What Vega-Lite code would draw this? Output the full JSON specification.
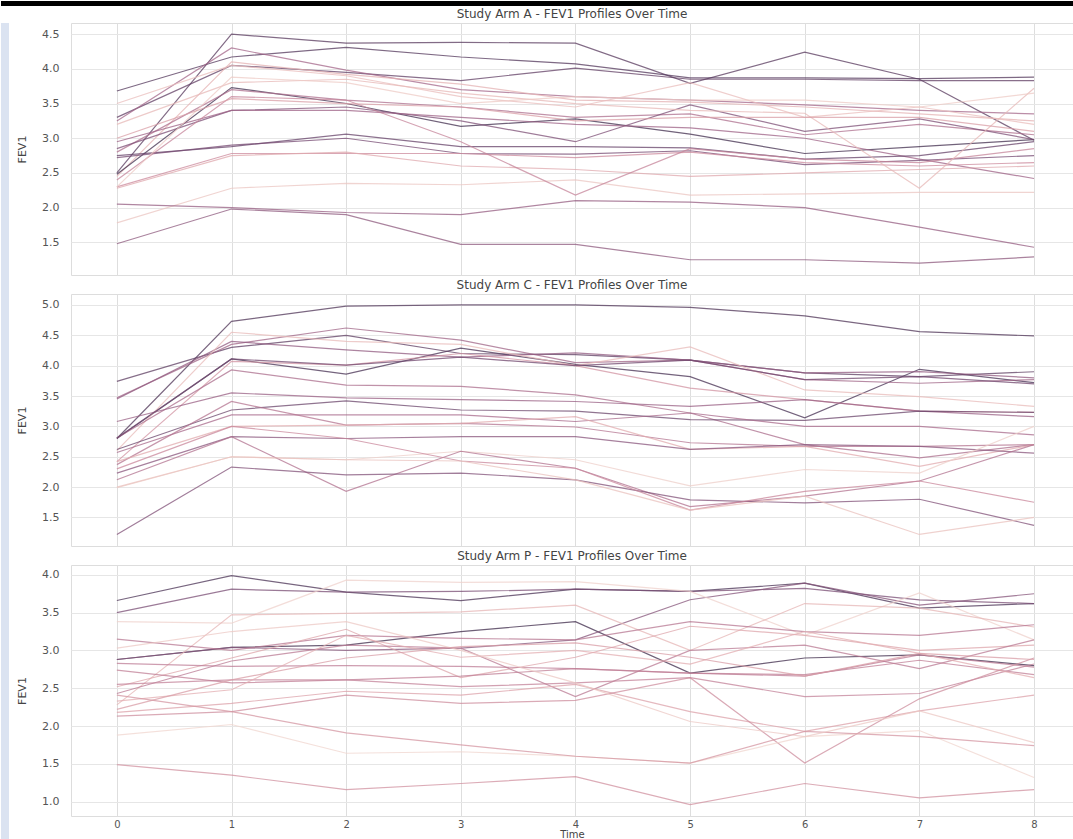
{
"$schema": "https://vega.github.io/schema/vega-lite/v6.json",
"padding": 0,
"background": "white",
"config": {"font": "DejaVu Sans", "view": {"stroke": "#dddddd"}, "concat": {"spacing": 0}},
"datasets": {"fev": [
{"arm":"A","id":56,"t":0,"v":2.50},{"arm":"A","id":56,"t":1,"v":4.50},{"arm":"A","id":56,"t":2,"v":4.37},{"arm":"A","id":56,"t":3,"v":4.38},{"arm":"A","id":56,"t":4,"v":4.37},{"arm":"A","id":56,"t":5,"v":3.79},{"arm":"A","id":56,"t":6,"v":4.24},{"arm":"A","id":56,"t":7,"v":3.85},{"arm":"A","id":56,"t":8,"v":2.97},
{"arm":"A","id":57,"t":0,"v":3.68},{"arm":"A","id":57,"t":1,"v":4.17},{"arm":"A","id":57,"t":2,"v":4.31},{"arm":"A","id":57,"t":3,"v":4.17},{"arm":"A","id":57,"t":4,"v":4.07},{"arm":"A","id":57,"t":5,"v":3.87},{"arm":"A","id":57,"t":6,"v":3.87},{"arm":"A","id":57,"t":7,"v":3.86},{"arm":"A","id":57,"t":8,"v":3.88},
{"arm":"A","id":54,"t":0,"v":3.30},{"arm":"A","id":54,"t":1,"v":4.05},{"arm":"A","id":54,"t":2,"v":3.95},{"arm":"A","id":54,"t":3,"v":3.83},{"arm":"A","id":54,"t":4,"v":4.01},{"arm":"A","id":54,"t":5,"v":3.85},{"arm":"A","id":54,"t":6,"v":3.85},{"arm":"A","id":54,"t":7,"v":3.83},{"arm":"A","id":54,"t":8,"v":3.83},
{"arm":"A","id":38,"t":0,"v":3.25},{"arm":"A","id":38,"t":1,"v":4.30},{"arm":"A","id":38,"t":2,"v":3.98},{"arm":"A","id":38,"t":3,"v":3.70},{"arm":"A","id":38,"t":4,"v":3.60},{"arm":"A","id":38,"t":5,"v":3.55},{"arm":"A","id":38,"t":6,"v":3.48},{"arm":"A","id":38,"t":7,"v":3.40},{"arm":"A","id":38,"t":8,"v":3.35},
{"arm":"A","id":12,"t":0,"v":2.45},{"arm":"A","id":12,"t":1,"v":4.10},{"arm":"A","id":12,"t":2,"v":3.92},{"arm":"A","id":12,"t":3,"v":3.78},{"arm":"A","id":12,"t":4,"v":3.55},{"arm":"A","id":12,"t":5,"v":3.52},{"arm":"A","id":12,"t":6,"v":3.45},{"arm":"A","id":12,"t":7,"v":3.35},{"arm":"A","id":12,"t":8,"v":3.25},
{"arm":"A","id":8,"t":0,"v":3.50},{"arm":"A","id":8,"t":1,"v":4.05},{"arm":"A","id":8,"t":2,"v":3.90},{"arm":"A","id":8,"t":3,"v":3.60},{"arm":"A","id":8,"t":4,"v":3.45},{"arm":"A","id":8,"t":5,"v":3.80},{"arm":"A","id":8,"t":6,"v":3.30},{"arm":"A","id":8,"t":7,"v":3.45},{"arm":"A","id":8,"t":8,"v":3.20},
{"arm":"A","id":61,"t":0,"v":2.48},{"arm":"A","id":61,"t":1,"v":3.73},{"arm":"A","id":61,"t":2,"v":3.50},{"arm":"A","id":61,"t":3,"v":3.17},{"arm":"A","id":61,"t":4,"v":3.28},{"arm":"A","id":61,"t":5,"v":3.06},{"arm":"A","id":61,"t":6,"v":2.78},{"arm":"A","id":61,"t":7,"v":2.88},{"arm":"A","id":61,"t":8,"v":2.98},
{"arm":"A","id":35,"t":0,"v":2.80},{"arm":"A","id":35,"t":1,"v":3.70},{"arm":"A","id":35,"t":2,"v":3.55},{"arm":"A","id":35,"t":3,"v":3.45},{"arm":"A","id":35,"t":4,"v":3.30},{"arm":"A","id":35,"t":5,"v":3.35},{"arm":"A","id":35,"t":6,"v":3.05},{"arm":"A","id":35,"t":7,"v":3.20},{"arm":"A","id":35,"t":8,"v":3.05},
{"arm":"A","id":48,"t":0,"v":2.85},{"arm":"A","id":48,"t":1,"v":3.40},{"arm":"A","id":48,"t":2,"v":3.45},{"arm":"A","id":48,"t":3,"v":3.25},{"arm":"A","id":48,"t":4,"v":2.95},{"arm":"A","id":48,"t":5,"v":3.48},{"arm":"A","id":48,"t":6,"v":3.10},{"arm":"A","id":48,"t":7,"v":3.28},{"arm":"A","id":48,"t":8,"v":2.98},
{"arm":"A","id":40,"t":0,"v":2.95},{"arm":"A","id":40,"t":1,"v":3.40},{"arm":"A","id":40,"t":2,"v":3.40},{"arm":"A","id":40,"t":3,"v":3.30},{"arm":"A","id":40,"t":4,"v":3.20},{"arm":"A","id":40,"t":5,"v":3.15},{"arm":"A","id":40,"t":6,"v":3.00},{"arm":"A","id":40,"t":7,"v":2.70},{"arm":"A","id":40,"t":8,"v":2.42},
{"arm":"A","id":53,"t":0,"v":2.75},{"arm":"A","id":53,"t":1,"v":2.88},{"arm":"A","id":53,"t":2,"v":3.06},{"arm":"A","id":53,"t":3,"v":2.88},{"arm":"A","id":53,"t":4,"v":2.88},{"arm":"A","id":53,"t":5,"v":2.86},{"arm":"A","id":53,"t":6,"v":2.70},{"arm":"A","id":53,"t":7,"v":2.75},{"arm":"A","id":53,"t":8,"v":2.95},
{"arm":"A","id":50,"t":0,"v":2.72},{"arm":"A","id":50,"t":1,"v":2.90},{"arm":"A","id":50,"t":2,"v":3.00},{"arm":"A","id":50,"t":3,"v":2.78},{"arm":"A","id":50,"t":4,"v":2.77},{"arm":"A","id":50,"t":5,"v":2.82},{"arm":"A","id":50,"t":6,"v":2.62},{"arm":"A","id":50,"t":7,"v":2.68},{"arm":"A","id":50,"t":8,"v":2.75},
{"arm":"A","id":25,"t":0,"v":2.30},{"arm":"A","id":25,"t":1,"v":2.78},{"arm":"A","id":25,"t":2,"v":2.78},{"arm":"A","id":25,"t":3,"v":2.78},{"arm":"A","id":25,"t":4,"v":2.72},{"arm":"A","id":25,"t":5,"v":2.80},{"arm":"A","id":25,"t":6,"v":2.65},{"arm":"A","id":25,"t":7,"v":2.60},{"arm":"A","id":25,"t":8,"v":2.65},
{"arm":"A","id":15,"t":0,"v":2.28},{"arm":"A","id":15,"t":1,"v":2.75},{"arm":"A","id":15,"t":2,"v":2.80},{"arm":"A","id":15,"t":3,"v":2.60},{"arm":"A","id":15,"t":4,"v":2.55},{"arm":"A","id":15,"t":5,"v":2.45},{"arm":"A","id":15,"t":6,"v":2.50},{"arm":"A","id":15,"t":7,"v":2.55},{"arm":"A","id":15,"t":8,"v":2.60},
{"arm":"A","id":6,"t":0,"v":1.78},{"arm":"A","id":6,"t":1,"v":2.28},{"arm":"A","id":6,"t":2,"v":2.35},{"arm":"A","id":6,"t":3,"v":2.33},{"arm":"A","id":6,"t":4,"v":2.40},{"arm":"A","id":6,"t":5,"v":2.18},{"arm":"A","id":6,"t":6,"v":2.20},{"arm":"A","id":6,"t":7,"v":2.22},{"arm":"A","id":6,"t":8,"v":2.22},
{"arm":"A","id":42,"t":0,"v":2.05},{"arm":"A","id":42,"t":1,"v":2.00},{"arm":"A","id":42,"t":2,"v":1.93},{"arm":"A","id":42,"t":3,"v":1.90},{"arm":"A","id":42,"t":4,"v":2.10},{"arm":"A","id":42,"t":5,"v":2.08},{"arm":"A","id":42,"t":6,"v":2.00},{"arm":"A","id":42,"t":7,"v":1.72},{"arm":"A","id":42,"t":8,"v":1.43},
{"arm":"A","id":44,"t":0,"v":1.48},{"arm":"A","id":44,"t":1,"v":1.98},{"arm":"A","id":44,"t":2,"v":1.90},{"arm":"A","id":44,"t":3,"v":1.47},{"arm":"A","id":44,"t":4,"v":1.47},{"arm":"A","id":44,"t":5,"v":1.25},{"arm":"A","id":44,"t":6,"v":1.25},{"arm":"A","id":44,"t":7,"v":1.20},{"arm":"A","id":44,"t":8,"v":1.29},
{"arm":"A","id":27,"t":0,"v":2.40},{"arm":"A","id":27,"t":1,"v":3.60},{"arm":"A","id":27,"t":2,"v":3.55},{"arm":"A","id":27,"t":3,"v":2.95},{"arm":"A","id":27,"t":4,"v":2.18},{"arm":"A","id":27,"t":5,"v":2.85},{"arm":"A","id":27,"t":6,"v":2.70},{"arm":"A","id":27,"t":7,"v":2.65},{"arm":"A","id":27,"t":8,"v":2.85},
{"arm":"A","id":10,"t":0,"v":3.20},{"arm":"A","id":10,"t":1,"v":3.80},{"arm":"A","id":10,"t":2,"v":3.85},{"arm":"A","id":10,"t":3,"v":3.65},{"arm":"A","id":10,"t":4,"v":3.50},{"arm":"A","id":10,"t":5,"v":3.40},{"arm":"A","id":10,"t":6,"v":3.36},{"arm":"A","id":10,"t":7,"v":2.28},{"arm":"A","id":10,"t":8,"v":3.72},
{"arm":"A","id":4,"t":0,"v":2.30},{"arm":"A","id":4,"t":1,"v":3.88},{"arm":"A","id":4,"t":2,"v":3.80},{"arm":"A","id":4,"t":3,"v":3.50},{"arm":"A","id":4,"t":4,"v":3.60},{"arm":"A","id":4,"t":5,"v":3.55},{"arm":"A","id":4,"t":6,"v":3.55},{"arm":"A","id":4,"t":7,"v":3.45},{"arm":"A","id":4,"t":8,"v":3.65},
{"arm":"A","id":18,"t":0,"v":3.00},{"arm":"A","id":18,"t":1,"v":3.57},{"arm":"A","id":18,"t":2,"v":3.50},{"arm":"A","id":18,"t":3,"v":3.45},{"arm":"A","id":18,"t":4,"v":3.25},{"arm":"A","id":18,"t":5,"v":3.30},{"arm":"A","id":18,"t":6,"v":3.30},{"arm":"A","id":18,"t":7,"v":3.30},{"arm":"A","id":18,"t":8,"v":3.10},
{"arm":"C","id":58,"t":0,"v":2.80},{"arm":"C","id":58,"t":1,"v":4.73},{"arm":"C","id":58,"t":2,"v":4.98},{"arm":"C","id":58,"t":3,"v":5.00},{"arm":"C","id":58,"t":4,"v":5.00},{"arm":"C","id":58,"t":5,"v":4.96},{"arm":"C","id":58,"t":6,"v":4.82},{"arm":"C","id":58,"t":7,"v":4.56},{"arm":"C","id":58,"t":8,"v":4.49},
{"arm":"C","id":60,"t":0,"v":2.80},{"arm":"C","id":60,"t":1,"v":4.11},{"arm":"C","id":60,"t":2,"v":3.86},{"arm":"C","id":60,"t":3,"v":4.29},{"arm":"C","id":60,"t":4,"v":4.02},{"arm":"C","id":60,"t":5,"v":3.82},{"arm":"C","id":60,"t":6,"v":3.14},{"arm":"C","id":60,"t":7,"v":3.94},{"arm":"C","id":60,"t":8,"v":3.72},
{"arm":"C","id":55,"t":0,"v":3.74},{"arm":"C","id":55,"t":1,"v":4.30},{"arm":"C","id":55,"t":2,"v":4.50},{"arm":"C","id":55,"t":3,"v":4.20},{"arm":"C","id":55,"t":4,"v":4.18},{"arm":"C","id":55,"t":5,"v":4.09},{"arm":"C","id":55,"t":6,"v":3.88},{"arm":"C","id":55,"t":7,"v":3.82},{"arm":"C","id":55,"t":8,"v":3.90},
{"arm":"C","id":39,"t":0,"v":3.47},{"arm":"C","id":39,"t":1,"v":4.35},{"arm":"C","id":39,"t":2,"v":4.62},{"arm":"C","id":39,"t":3,"v":4.42},{"arm":"C","id":39,"t":4,"v":4.05},{"arm":"C","id":39,"t":5,"v":4.09},{"arm":"C","id":39,"t":6,"v":3.77},{"arm":"C","id":39,"t":7,"v":3.71},{"arm":"C","id":39,"t":8,"v":3.77},
{"arm":"C","id":43,"t":0,"v":3.45},{"arm":"C","id":43,"t":1,"v":4.40},{"arm":"C","id":43,"t":2,"v":4.26},{"arm":"C","id":43,"t":3,"v":4.14},{"arm":"C","id":43,"t":4,"v":4.21},{"arm":"C","id":43,"t":5,"v":4.09},{"arm":"C","id":43,"t":6,"v":3.88},{"arm":"C","id":43,"t":7,"v":3.90},{"arm":"C","id":43,"t":8,"v":3.80},
{"arm":"C","id":9,"t":0,"v":2.60},{"arm":"C","id":9,"t":1,"v":4.55},{"arm":"C","id":9,"t":2,"v":4.40},{"arm":"C","id":9,"t":3,"v":4.35},{"arm":"C","id":9,"t":4,"v":4.00},{"arm":"C","id":9,"t":5,"v":4.31},{"arm":"C","id":9,"t":6,"v":3.60},{"arm":"C","id":9,"t":7,"v":3.49},{"arm":"C","id":9,"t":8,"v":3.33},
{"arm":"C","id":22,"t":0,"v":2.42},{"arm":"C","id":22,"t":1,"v":4.07},{"arm":"C","id":22,"t":2,"v":4.01},{"arm":"C","id":22,"t":3,"v":4.20},{"arm":"C","id":22,"t":4,"v":4.00},{"arm":"C","id":22,"t":5,"v":3.63},{"arm":"C","id":22,"t":6,"v":3.44},{"arm":"C","id":22,"t":7,"v":3.25},{"arm":"C","id":22,"t":8,"v":3.23},
{"arm":"C","id":36,"t":0,"v":2.81},{"arm":"C","id":36,"t":1,"v":3.93},{"arm":"C","id":36,"t":2,"v":3.68},{"arm":"C","id":36,"t":3,"v":3.66},{"arm":"C","id":36,"t":4,"v":3.52},{"arm":"C","id":36,"t":5,"v":3.22},{"arm":"C","id":36,"t":6,"v":2.70},{"arm":"C","id":36,"t":7,"v":2.48},{"arm":"C","id":36,"t":8,"v":2.70},
{"arm":"C","id":41,"t":0,"v":3.08},{"arm":"C","id":41,"t":1,"v":3.55},{"arm":"C","id":41,"t":2,"v":3.47},{"arm":"C","id":41,"t":3,"v":3.44},{"arm":"C","id":41,"t":4,"v":3.41},{"arm":"C","id":41,"t":5,"v":3.33},{"arm":"C","id":41,"t":6,"v":3.44},{"arm":"C","id":41,"t":7,"v":3.25},{"arm":"C","id":41,"t":8,"v":3.16},
{"arm":"C","id":52,"t":0,"v":2.62},{"arm":"C","id":52,"t":1,"v":3.27},{"arm":"C","id":52,"t":2,"v":3.42},{"arm":"C","id":52,"t":3,"v":3.27},{"arm":"C","id":52,"t":4,"v":3.25},{"arm":"C","id":52,"t":5,"v":3.11},{"arm":"C","id":52,"t":6,"v":3.10},{"arm":"C","id":52,"t":7,"v":3.25},{"arm":"C","id":52,"t":8,"v":3.23},
{"arm":"C","id":37,"t":0,"v":2.57},{"arm":"C","id":37,"t":1,"v":3.19},{"arm":"C","id":37,"t":2,"v":3.19},{"arm":"C","id":37,"t":3,"v":3.19},{"arm":"C","id":37,"t":4,"v":3.08},{"arm":"C","id":37,"t":5,"v":3.22},{"arm":"C","id":37,"t":6,"v":3.00},{"arm":"C","id":37,"t":7,"v":3.00},{"arm":"C","id":37,"t":8,"v":2.86},
{"arm":"C","id":33,"t":0,"v":2.37},{"arm":"C","id":33,"t":1,"v":3.41},{"arm":"C","id":33,"t":2,"v":3.02},{"arm":"C","id":33,"t":3,"v":3.05},{"arm":"C","id":33,"t":4,"v":2.99},{"arm":"C","id":33,"t":5,"v":2.73},{"arm":"C","id":33,"t":6,"v":2.67},{"arm":"C","id":33,"t":7,"v":2.67},{"arm":"C","id":33,"t":8,"v":2.70},
{"arm":"C","id":14,"t":0,"v":2.42},{"arm":"C","id":14,"t":1,"v":3.00},{"arm":"C","id":14,"t":2,"v":3.02},{"arm":"C","id":14,"t":3,"v":3.05},{"arm":"C","id":14,"t":4,"v":3.16},{"arm":"C","id":14,"t":5,"v":2.62},{"arm":"C","id":14,"t":6,"v":2.67},{"arm":"C","id":14,"t":7,"v":2.34},{"arm":"C","id":14,"t":8,"v":2.70},
{"arm":"C","id":45,"t":0,"v":2.23},{"arm":"C","id":45,"t":1,"v":2.83},{"arm":"C","id":45,"t":2,"v":2.80},{"arm":"C","id":45,"t":3,"v":2.83},{"arm":"C","id":45,"t":4,"v":2.83},{"arm":"C","id":45,"t":5,"v":2.62},{"arm":"C","id":45,"t":6,"v":2.70},{"arm":"C","id":45,"t":7,"v":2.67},{"arm":"C","id":45,"t":8,"v":2.56},
{"arm":"C","id":3,"t":0,"v":1.99},{"arm":"C","id":3,"t":1,"v":2.50},{"arm":"C","id":3,"t":2,"v":2.45},{"arm":"C","id":3,"t":3,"v":2.59},{"arm":"C","id":3,"t":4,"v":2.45},{"arm":"C","id":3,"t":5,"v":2.02},{"arm":"C","id":3,"t":6,"v":2.29},{"arm":"C","id":3,"t":7,"v":2.23},{"arm":"C","id":3,"t":8,"v":3.00},
{"arm":"C","id":34,"t":0,"v":2.12},{"arm":"C","id":34,"t":1,"v":2.83},{"arm":"C","id":34,"t":2,"v":1.93},{"arm":"C","id":34,"t":3,"v":2.59},{"arm":"C","id":34,"t":4,"v":2.31},{"arm":"C","id":34,"t":5,"v":1.68},{"arm":"C","id":34,"t":6,"v":1.85},{"arm":"C","id":34,"t":7,"v":2.10},{"arm":"C","id":34,"t":8,"v":2.70},
{"arm":"C","id":47,"t":0,"v":1.22},{"arm":"C","id":47,"t":1,"v":2.33},{"arm":"C","id":47,"t":2,"v":2.20},{"arm":"C","id":47,"t":3,"v":2.23},{"arm":"C","id":47,"t":4,"v":2.12},{"arm":"C","id":47,"t":5,"v":1.79},{"arm":"C","id":47,"t":6,"v":1.74},{"arm":"C","id":47,"t":7,"v":1.80},{"arm":"C","id":47,"t":8,"v":1.37},
{"arm":"C","id":26,"t":0,"v":2.30},{"arm":"C","id":26,"t":1,"v":3.00},{"arm":"C","id":26,"t":2,"v":2.80},{"arm":"C","id":26,"t":3,"v":2.43},{"arm":"C","id":26,"t":4,"v":2.31},{"arm":"C","id":26,"t":5,"v":1.62},{"arm":"C","id":26,"t":6,"v":1.93},{"arm":"C","id":26,"t":7,"v":2.10},{"arm":"C","id":26,"t":8,"v":1.75},
{"arm":"C","id":7,"t":0,"v":2.00},{"arm":"C","id":7,"t":1,"v":2.50},{"arm":"C","id":7,"t":2,"v":2.45},{"arm":"C","id":7,"t":3,"v":2.43},{"arm":"C","id":7,"t":4,"v":2.12},{"arm":"C","id":7,"t":5,"v":1.62},{"arm":"C","id":7,"t":6,"v":1.85},{"arm":"C","id":7,"t":7,"v":1.22},{"arm":"C","id":7,"t":8,"v":1.50},
{"arm":"C","id":51,"t":0,"v":2.81},{"arm":"C","id":51,"t":1,"v":4.11},{"arm":"C","id":51,"t":2,"v":4.01},{"arm":"C","id":51,"t":3,"v":4.14},{"arm":"C","id":51,"t":4,"v":4.00},{"arm":"C","id":51,"t":5,"v":4.09},{"arm":"C","id":51,"t":6,"v":3.77},{"arm":"C","id":51,"t":7,"v":3.82},{"arm":"C","id":51,"t":8,"v":3.70},
{"arm":"P","id":59,"t":0,"v":3.66},{"arm":"P","id":59,"t":1,"v":3.99},{"arm":"P","id":59,"t":2,"v":3.77},{"arm":"P","id":59,"t":3,"v":3.66},{"arm":"P","id":59,"t":4,"v":3.81},{"arm":"P","id":59,"t":5,"v":3.78},{"arm":"P","id":59,"t":6,"v":3.89},{"arm":"P","id":59,"t":7,"v":3.56},{"arm":"P","id":59,"t":8,"v":3.62},
{"arm":"P","id":49,"t":0,"v":3.50},{"arm":"P","id":49,"t":1,"v":3.81},{"arm":"P","id":49,"t":2,"v":3.77},{"arm":"P","id":49,"t":3,"v":3.78},{"arm":"P","id":49,"t":4,"v":3.81},{"arm":"P","id":49,"t":5,"v":3.78},{"arm":"P","id":49,"t":6,"v":3.82},{"arm":"P","id":49,"t":7,"v":3.67},{"arm":"P","id":49,"t":8,"v":3.62},
{"arm":"P","id":62,"t":0,"v":2.88},{"arm":"P","id":62,"t":1,"v":3.04},{"arm":"P","id":62,"t":2,"v":3.07},{"arm":"P","id":62,"t":3,"v":3.25},{"arm":"P","id":62,"t":4,"v":3.38},{"arm":"P","id":62,"t":5,"v":2.70},{"arm":"P","id":62,"t":6,"v":2.90},{"arm":"P","id":62,"t":7,"v":2.94},{"arm":"P","id":62,"t":8,"v":2.80},
{"arm":"P","id":46,"t":0,"v":2.88},{"arm":"P","id":46,"t":1,"v":3.04},{"arm":"P","id":46,"t":2,"v":3.00},{"arm":"P","id":46,"t":3,"v":3.03},{"arm":"P","id":46,"t":4,"v":3.14},{"arm":"P","id":46,"t":5,"v":3.67},{"arm":"P","id":46,"t":6,"v":3.89},{"arm":"P","id":46,"t":7,"v":3.60},{"arm":"P","id":46,"t":8,"v":3.75},
{"arm":"P","id":2,"t":0,"v":3.38},{"arm":"P","id":2,"t":1,"v":3.36},{"arm":"P","id":2,"t":2,"v":3.93},{"arm":"P","id":2,"t":3,"v":3.90},{"arm":"P","id":2,"t":4,"v":3.91},{"arm":"P","id":2,"t":5,"v":3.78},{"arm":"P","id":2,"t":6,"v":3.20},{"arm":"P","id":2,"t":7,"v":3.76},{"arm":"P","id":2,"t":8,"v":3.14},
{"arm":"P","id":11,"t":0,"v":2.28},{"arm":"P","id":11,"t":1,"v":3.47},{"arm":"P","id":11,"t":2,"v":3.49},{"arm":"P","id":11,"t":3,"v":3.51},{"arm":"P","id":11,"t":4,"v":3.60},{"arm":"P","id":11,"t":5,"v":3.00},{"arm":"P","id":11,"t":6,"v":3.62},{"arm":"P","id":11,"t":7,"v":3.56},{"arm":"P","id":11,"t":8,"v":3.31},
{"arm":"P","id":32,"t":0,"v":3.15},{"arm":"P","id":32,"t":1,"v":3.00},{"arm":"P","id":32,"t":2,"v":3.20},{"arm":"P","id":32,"t":3,"v":3.16},{"arm":"P","id":32,"t":4,"v":3.14},{"arm":"P","id":32,"t":5,"v":3.38},{"arm":"P","id":32,"t":6,"v":3.25},{"arm":"P","id":32,"t":7,"v":3.20},{"arm":"P","id":32,"t":8,"v":3.34},
{"arm":"P","id":16,"t":0,"v":2.52},{"arm":"P","id":16,"t":1,"v":2.90},{"arm":"P","id":16,"t":2,"v":3.28},{"arm":"P","id":16,"t":3,"v":2.64},{"arm":"P","id":16,"t":4,"v":2.91},{"arm":"P","id":16,"t":5,"v":3.32},{"arm":"P","id":16,"t":6,"v":3.20},{"arm":"P","id":16,"t":7,"v":3.00},{"arm":"P","id":16,"t":8,"v":3.07},
{"arm":"P","id":31,"t":0,"v":2.43},{"arm":"P","id":31,"t":1,"v":2.86},{"arm":"P","id":31,"t":2,"v":3.07},{"arm":"P","id":31,"t":3,"v":3.03},{"arm":"P","id":31,"t":4,"v":2.39},{"arm":"P","id":31,"t":5,"v":3.00},{"arm":"P","id":31,"t":6,"v":3.07},{"arm":"P","id":31,"t":7,"v":2.76},{"arm":"P","id":31,"t":8,"v":3.14},
{"arm":"P","id":30,"t":0,"v":2.83},{"arm":"P","id":30,"t":1,"v":2.79},{"arm":"P","id":30,"t":2,"v":2.80},{"arm":"P","id":30,"t":3,"v":2.79},{"arm":"P","id":30,"t":4,"v":2.76},{"arm":"P","id":30,"t":5,"v":2.70},{"arm":"P","id":30,"t":6,"v":2.66},{"arm":"P","id":30,"t":7,"v":2.94},{"arm":"P","id":30,"t":8,"v":2.78},
{"arm":"P","id":29,"t":0,"v":2.74},{"arm":"P","id":29,"t":1,"v":2.57},{"arm":"P","id":29,"t":2,"v":2.61},{"arm":"P","id":29,"t":3,"v":2.66},{"arm":"P","id":29,"t":4,"v":2.76},{"arm":"P","id":29,"t":5,"v":2.70},{"arm":"P","id":29,"t":6,"v":2.68},{"arm":"P","id":29,"t":7,"v":2.87},{"arm":"P","id":29,"t":8,"v":2.68},
{"arm":"P","id":28,"t":0,"v":2.55},{"arm":"P","id":28,"t":1,"v":2.61},{"arm":"P","id":28,"t":2,"v":2.61},{"arm":"P","id":28,"t":3,"v":2.52},{"arm":"P","id":28,"t":4,"v":2.57},{"arm":"P","id":28,"t":5,"v":2.64},{"arm":"P","id":28,"t":6,"v":2.39},{"arm":"P","id":28,"t":7,"v":2.43},{"arm":"P","id":28,"t":8,"v":2.82},
{"arm":"P","id":13,"t":0,"v":2.33},{"arm":"P","id":13,"t":1,"v":2.48},{"arm":"P","id":13,"t":2,"v":3.20},{"arm":"P","id":13,"t":3,"v":2.91},{"arm":"P","id":13,"t":4,"v":3.00},{"arm":"P","id":13,"t":5,"v":2.82},{"arm":"P","id":13,"t":6,"v":3.25},{"arm":"P","id":13,"t":7,"v":2.96},{"arm":"P","id":13,"t":8,"v":2.64},
{"arm":"P","id":17,"t":0,"v":2.18},{"arm":"P","id":17,"t":1,"v":2.30},{"arm":"P","id":17,"t":2,"v":2.46},{"arm":"P","id":17,"t":3,"v":2.41},{"arm":"P","id":17,"t":4,"v":2.55},{"arm":"P","id":17,"t":5,"v":2.19},{"arm":"P","id":17,"t":6,"v":1.93},{"arm":"P","id":17,"t":7,"v":2.20},{"arm":"P","id":17,"t":8,"v":2.41},
{"arm":"P","id":24,"t":0,"v":2.13},{"arm":"P","id":24,"t":1,"v":2.19},{"arm":"P","id":24,"t":2,"v":2.41},{"arm":"P","id":24,"t":3,"v":2.30},{"arm":"P","id":24,"t":4,"v":2.34},{"arm":"P","id":24,"t":5,"v":2.64},{"arm":"P","id":24,"t":6,"v":1.51},{"arm":"P","id":24,"t":7,"v":2.36},{"arm":"P","id":24,"t":8,"v":2.90},
{"arm":"P","id":1,"t":0,"v":1.88},{"arm":"P","id":1,"t":1,"v":2.02},{"arm":"P","id":1,"t":2,"v":1.64},{"arm":"P","id":1,"t":3,"v":1.66},{"arm":"P","id":1,"t":4,"v":1.60},{"arm":"P","id":1,"t":5,"v":1.51},{"arm":"P","id":1,"t":6,"v":1.86},{"arm":"P","id":1,"t":7,"v":1.94},{"arm":"P","id":1,"t":8,"v":1.32},
{"arm":"P","id":21,"t":0,"v":2.41},{"arm":"P","id":21,"t":1,"v":2.19},{"arm":"P","id":21,"t":2,"v":1.91},{"arm":"P","id":21,"t":3,"v":1.75},{"arm":"P","id":21,"t":4,"v":1.60},{"arm":"P","id":21,"t":5,"v":1.51},{"arm":"P","id":21,"t":6,"v":1.93},{"arm":"P","id":21,"t":7,"v":1.86},{"arm":"P","id":21,"t":8,"v":1.74},
{"arm":"P","id":23,"t":0,"v":1.49},{"arm":"P","id":23,"t":1,"v":1.35},{"arm":"P","id":23,"t":2,"v":1.16},{"arm":"P","id":23,"t":3,"v":1.24},{"arm":"P","id":23,"t":4,"v":1.33},{"arm":"P","id":23,"t":5,"v":0.96},{"arm":"P","id":23,"t":6,"v":1.24},{"arm":"P","id":23,"t":7,"v":1.05},{"arm":"P","id":23,"t":8,"v":1.16},
{"arm":"P","id":5,"t":0,"v":3.03},{"arm":"P","id":5,"t":1,"v":3.25},{"arm":"P","id":5,"t":2,"v":3.38},{"arm":"P","id":5,"t":3,"v":3.00},{"arm":"P","id":5,"t":4,"v":2.57},{"arm":"P","id":5,"t":5,"v":2.06},{"arm":"P","id":5,"t":6,"v":1.86},{"arm":"P","id":5,"t":7,"v":2.20},{"arm":"P","id":5,"t":8,"v":1.78},
{"arm":"P","id":19,"t":0,"v":2.22},{"arm":"P","id":19,"t":1,"v":2.61},{"arm":"P","id":19,"t":2,"v":2.90},{"arm":"P","id":19,"t":3,"v":3.05},{"arm":"P","id":19,"t":4,"v":3.10},{"arm":"P","id":19,"t":5,"v":2.91},{"arm":"P","id":19,"t":6,"v":2.66},{"arm":"P","id":19,"t":7,"v":2.96},{"arm":"P","id":19,"t":8,"v":2.88}
]},
"vconcat": [
 {"width": 1073, "height": 5, "data": {"values": [{}]}, "mark": {"type": "rule", "opacity": 0}, "encoding": {}, "view": {"fill": "#000000", "stroke": null}},
 {"hconcat": [
   {"width": 8, "height": 816, "data": {"values": [{}]}, "mark": {"type": "rule", "opacity": 0}, "encoding": {}, "view": {"fill": "#dbe3f1", "stroke": null}},
   {"vconcat": [
     {"title": {"text": "Study Arm A - FEV1 Profiles Over Time", "fontSize": 12, "fontWeight": "normal", "color": "#444444", "offset": 2},
      "width": 1002, "height": 252,
      "data": {"name": "fev"}, "transform": [{"filter": "datum.arm === 'A'"}],
      "mark": {"type": "line", "strokeWidth": 1.2, "opacity": 0.75},
      "encoding": {
        "x": {"field": "t", "type": "quantitative", "scale": {"domain": [-0.4, 8.34], "nice": false, "zero": false}, "axis": {"values": [0,1,2,3,4,5,6,7,8], "labels": false, "ticks": false, "domain": false, "title": null, "grid": true, "gridColor": "#dedede", "minExtent": 0, "maxExtent": 0}},
        "y": {"field": "v", "type": "quantitative", "scale": {"domain": [1.03, 4.66], "nice": false, "zero": false}, "axis": {"values": [1.5,2,2.5,3,3.5,4,4.5], "format": ".1f", "ticks": false, "domain": false, "labelFontSize": 11, "labelColor": "#555555", "labelPadding": 12, "title": "FEV1", "titleFontSize": 11, "titleFontWeight": "normal", "titleColor": "#444444", "titlePadding": 14, "gridColor": "#e6e6e6"}},
        "detail": {"field": "id", "type": "nominal"},
        "color": {"field": "id", "type": "quantitative", "scale": {"domain": [1, 13, 25, 37, 49, 62], "range": ["#f0d5cf", "#e3aeb1", "#cc8a9c", "#a86a8b", "#7a4d74", "#3d2a4a"]}, "legend": null}
      }},
     {"title": {"text": "Study Arm C - FEV1 Profiles Over Time", "fontSize": 12, "fontWeight": "normal", "color": "#444444", "offset": 2},
      "width": 1002, "height": 252,
      "data": {"name": "fev"}, "transform": [{"filter": "datum.arm === 'C'"}],
      "mark": {"type": "line", "strokeWidth": 1.2, "opacity": 0.75},
      "encoding": {
        "x": {"field": "t", "type": "quantitative", "scale": {"domain": [-0.4, 8.34], "nice": false, "zero": false}, "axis": {"values": [0,1,2,3,4,5,6,7,8], "labels": false, "ticks": false, "domain": false, "title": null, "grid": true, "gridColor": "#dedede", "minExtent": 0, "maxExtent": 0}},
        "y": {"field": "v", "type": "quantitative", "scale": {"domain": [1.03, 5.18], "nice": false, "zero": false}, "axis": {"values": [1.5,2,2.5,3,3.5,4,4.5,5], "format": ".1f", "ticks": false, "domain": false, "labelFontSize": 11, "labelColor": "#555555", "labelPadding": 12, "title": "FEV1", "titleFontSize": 11, "titleFontWeight": "normal", "titleColor": "#444444", "titlePadding": 14, "gridColor": "#e6e6e6"}},
        "detail": {"field": "id", "type": "nominal"},
        "color": {"field": "id", "type": "quantitative", "scale": {"domain": [1, 13, 25, 37, 49, 62], "range": ["#f0d5cf", "#e3aeb1", "#cc8a9c", "#a86a8b", "#7a4d74", "#3d2a4a"]}, "legend": null}
      }},
     {"title": {"text": "Study Arm P - FEV1 Profiles Over Time", "fontSize": 12, "fontWeight": "normal", "color": "#444444", "offset": 2},
      "width": 1002, "height": 251,
      "data": {"name": "fev"}, "transform": [{"filter": "datum.arm === 'P'"}],
      "mark": {"type": "line", "strokeWidth": 1.2, "opacity": 0.75},
      "encoding": {
        "x": {"field": "t", "type": "quantitative", "scale": {"domain": [-0.4, 8.34], "nice": false, "zero": false}, "axis": {"values": [0,1,2,3,4,5,6,7,8], "format": "d", "ticks": false, "domain": false, "labelFontSize": 10, "labelColor": "#555555", "labelPadding": 3, "title": "Time", "titleFontSize": 10, "titleFontWeight": "normal", "titleColor": "#444444", "titlePadding": 0, "grid": true, "gridColor": "#dedede"}},
        "y": {"field": "v", "type": "quantitative", "scale": {"domain": [0.81, 4.13], "nice": false, "zero": false}, "axis": {"values": [1,1.5,2,2.5,3,3.5,4], "format": ".1f", "ticks": false, "domain": false, "labelFontSize": 11, "labelColor": "#555555", "labelPadding": 12, "title": "FEV1", "titleFontSize": 11, "titleFontWeight": "normal", "titleColor": "#444444", "titlePadding": 14, "gridColor": "#e6e6e6"}},
        "detail": {"field": "id", "type": "nominal"},
        "color": {"field": "id", "type": "quantitative", "scale": {"domain": [1, 13, 25, 37, 49, 62], "range": ["#f0d5cf", "#e3aeb1", "#cc8a9c", "#a86a8b", "#7a4d74", "#3d2a4a"]}, "legend": null}
      }}
   ], "spacing": 2}
 ], "spacing": 7}
], "spacing": 1}
